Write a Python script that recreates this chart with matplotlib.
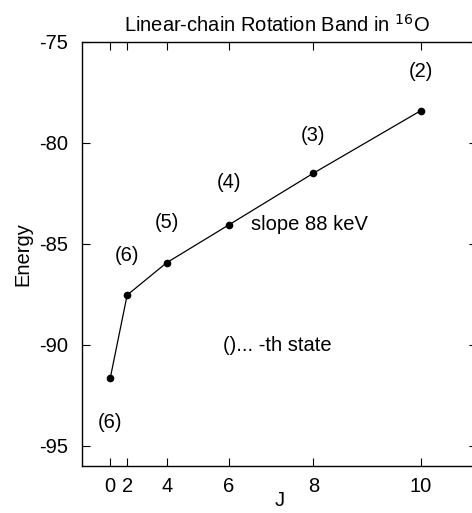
import numpy as np
import matplotlib
matplotlib.use('Agg')
import matplotlib.pyplot as plt

plt.rcParams['font.family'] = ['Liberation Sans', 'DejaVu Sans']
plt.rcParams['axes.unicode_minus'] = False

# spin J and energy of each band member
spins = [0, 2, 4, 6, 8, 10]
energies = [-91.66, -87.54, -85.94, -84.07, -81.51, -78.42]
# which excited state (n-th) each member is
state_labels = ['(6)', '(6)', '(5)', '(4)', '(3)', '(2)']
tick_spins = [0, 2, 4, 6, 8, 10]

jj = [j * (j + 1) for j in spins]
fs = 14.5

fig = plt.figure(figsize=(4.72, 5.13), dpi=100)
ax = fig.add_axes([82 / 472, 1 - 466 / 513, (477 - 82) / 472, (466 - 41.7) / 513])

ax.plot(jj, energies, color='black', lw=0.9, marker='o', ms=4.5)

# state labels placed relative to each point (pixels)
offsets = [(0, -44), (0, 40), (0, 40), (0, 42), (0, 38), (0, 39)]
for x, y, lab, (dx, dy) in zip(jj, energies, state_labels, offsets):
    ax.annotate(lab, (x, y), xytext=(dx, dy), textcoords='offset pixels',
                ha='center', va='center', fontsize=fs)

ax.text(0.4285, 0.568, 'slope 88 keV', transform=ax.transAxes, fontsize=fs,
        va='center', ha='left')
ax.text(0.357, 0.285, '()... -th state', transform=ax.transAxes, fontsize=fs,
        va='center', ha='left')

ax.set_xlim(-10, 130)
ax.set_ylim(-96, -75)
ax.set_xticks([j * (j + 1) for j in tick_spins])
ax.set_xticklabels([str(j) for j in tick_spins])
ax.set_yticks([-95, -90, -85, -80, -75])
ax.tick_params(direction='in', top=True, right=True, length=6, labelsize=fs, pad=10)
ax.tick_params(axis='x', pad=8)
for s in ax.spines.values():
    s.set_linewidth(1.0)

ax.set_xlabel('J', fontsize=fs, labelpad=-4)
ax.set_ylabel('Energy', fontsize=fs, labelpad=5)
ax.set_title('Linear-chain Rotation Band in $^{16}$O', fontsize=fs, pad=7,
             x=(277 - 82) / (477 - 82))

fig.savefig('out.png', dpi=100)
